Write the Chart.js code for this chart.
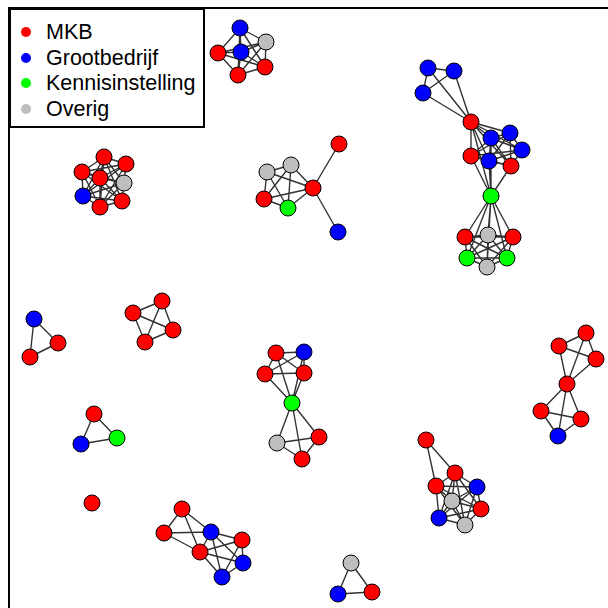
<!DOCTYPE html>
<html>
<head>
<meta charset="utf-8">
<script src="https://cdn.jsdelivr.net/npm/chart.js@4/dist/chart.umd.min.js"></script>
<style>
    body { margin: 0; background: #fff; overflow: hidden; }
    #wrap { position: relative; width: 608px; height: 608px; }
    #legend {
        position: absolute; left: 9px; top: 8px; width: 192px; height: 116px;
        border: 2px solid #000; background: #fff;
        font-family: "Liberation Sans", Arial, sans-serif; font-size: 21.5px; color: #000;
    }
    #legend .item { position: absolute; left: 0; height: 24px; line-height: 24px; }
    #legend .dot { position: absolute; left: 10px; top: 7px; width: 10px; height: 10px; border-radius: 50%; }
    #legend .label { position: absolute; left: 35px; white-space: nowrap; }
</style>
</head>
<body>
<div id="wrap">
    <canvas id="network" width="608" height="608"></canvas>
    <div id="legend"></div>
</div>
<script>
// organisation types
const categories = ['MKB', 'Grootbedrijf', 'Kennisinstelling', 'Overig'];
const categoryColors = ['#ff0000', '#0000ff', '#00ff00', '#bebebe'];

// node layout positions and type index
const nodeX = [
    240, 266, 241, 218, 265, 238,
    428, 454, 423, 471, 510, 491, 522, 471, 489, 511, 491, 465, 488, 513, 467, 507, 487,
    104, 82, 126, 100, 124, 83, 100, 122,
    339, 267, 291, 313, 264, 288, 338,
    34, 58, 30,
    133, 162, 173, 145,
    94, 81, 117,
    92,
    276, 304, 265, 304, 292, 277, 319, 302,
    586, 559, 596, 567, 541, 581, 558,
    426, 455, 436, 477, 452, 481, 439, 465,
    182, 164, 211, 200, 242, 243, 222,
    351, 338, 372
];
const nodeY = [
    28, 42, 52, 53, 67, 75,
    68, 71, 93, 122, 133, 138, 150, 156, 161, 166, 196, 237, 235, 237, 258, 258, 267,
    157, 172, 164, 178, 183, 196, 207, 201,
    144, 172, 165, 188, 199, 208, 232,
    319, 343, 357,
    313, 301, 330, 342,
    414, 444, 438,
    503,
    353, 352, 374, 373, 403, 443, 437, 459,
    333, 346, 359, 384, 411, 419, 436,
    440, 473, 486, 487, 501, 509, 518, 525,
    509, 533, 532, 552, 540, 563, 577,
    563, 594, 592
];
const nodeType = [
    1, 3, 1, 0, 0, 0,
    1, 1, 1, 0, 1, 1, 1, 0, 1, 0, 2, 0, 3, 0, 2, 2, 3,
    0, 0, 0, 0, 3, 1, 0, 0,
    0, 3, 3, 0, 0, 2, 1,
    1, 0, 0,
    0, 0, 0, 0,
    0, 1, 2,
    0,
    0, 1, 0, 0, 2, 3, 0, 0,
    0, 0, 0, 0, 0, 0, 1,
    0, 0, 0, 1, 3, 0, 1, 3,
    0, 0, 1, 0, 0, 1, 1,
    3, 1, 0
];

// groups whose members are all linked to each other
const cliques = [
    [0, 1, 2, 3, 4, 5],
    [6, 7, 8, 9],
    [9, 10, 11, 12, 13, 14, 15],
    [16, 17, 18, 19, 20, 21, 22],
    [23, 24, 25, 26, 27, 28, 29, 30],
    [32, 33, 34, 35, 36],
    [38, 39, 40],
    [41, 42, 43, 44],
    [45, 46, 47],
    [49, 50, 51, 52, 53],
    [53, 54, 55, 56],
    [57, 58, 59, 60],
    [60, 61, 62, 63],
    [65, 66, 67, 68, 69, 70, 71],
    [72, 73, 74, 75],
    [74, 75, 76, 77, 78],
    [79, 80, 81]
];
// remaining single links
const extraEdges = [
    [16, 9], [16, 11], [16, 13], [16, 14], [16, 15],
    [34, 31], [34, 37],
    [64, 65], [64, 66]
];

function buildEdges() {
    const pairs = [...extraEdges];
    cliques.forEach(group => {
        for (let i = 0; i < group.length; i++) {
            for (let j = i + 1; j < group.length; j++) {
                pairs.push([group[i], group[j]]);
            }
        }
    });
    const pts = [];
    pairs.forEach(([a, b]) => {
        pts.push({ x: nodeX[a], y: nodeY[a] });
        pts.push({ x: nodeX[b], y: nodeY[b] });
        pts.push({ x: null, y: null }); // gap between edges
    });
    return pts;
}

const nodeDatasets = categories.map((name, c) => ({
    label: name,
    data: nodeX.map((x, i) => ({ x, y: nodeY[i] })).filter((p, i) => nodeType[i] === c),
    backgroundColor: categoryColors[c],
    borderColor: '#000',
    borderWidth: 1,
    pointRadius: 8,
    showLine: false,
    order: 0,
}));

const edgeDataset = {
    label: 'edges',
    data: buildEdges(),
    showLine: true,
    spanGaps: false,
    borderColor: '#333',
    borderWidth: 1.4,
    pointRadius: 0,
    order: 1,
};

const framePlugin = {
    id: 'frame',
    beforeDatasetsDraw(chart) {
        const { ctx, chartArea } = chart;
        ctx.save();
        ctx.strokeStyle = '#000';
        ctx.lineWidth = 2;
        ctx.strokeRect(chartArea.left - 1, chartArea.top - 1, 700, 700);
        ctx.restore();
    },
};

const chart = new Chart(document.getElementById('network'), {
    type: 'scatter',
    data: { datasets: [...nodeDatasets, edgeDataset] },
    options: {
        responsive: false,
        animation: false,
        devicePixelRatio: 1,
        layout: { autoPadding: false, padding: { left: 10, top: 9, right: 0, bottom: 0 } },
        plugins: { legend: { display: false }, tooltip: { enabled: false } },
        scales: {
            x: { type: 'linear', min: 10, max: 608, display: false },
            y: { type: 'linear', min: 9, max: 608, reverse: true, display: false },
        },
    },
    plugins: [framePlugin],
});

// legend box in the top left corner
const legend = document.getElementById('legend');
nodeDatasets.forEach((ds, i) => {
    const item = document.createElement('div');
    item.className = 'item';
    item.style.top = (10 + i * 25.5) + 'px';
    item.innerHTML = `<span class="dot" style="background:${ds.backgroundColor}"></span><span class="label">${ds.label}</span>`;
    legend.appendChild(item);
});
</script>
</body>
</html>
